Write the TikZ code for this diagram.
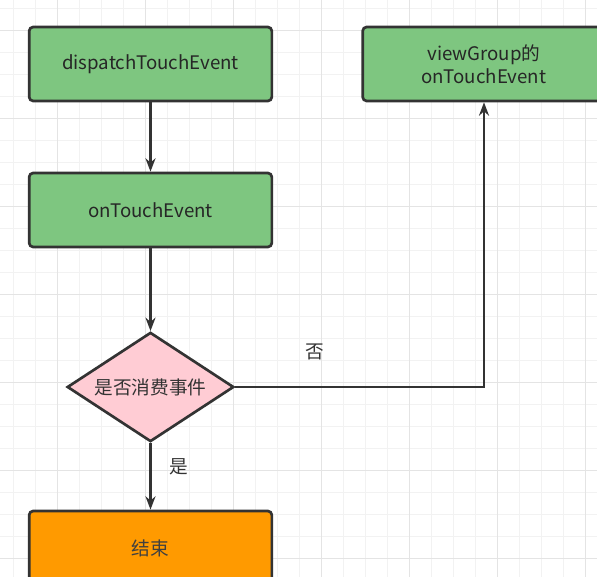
\documentclass[tikz,border=0pt]{standalone}
\usepackage{fontspec}
\setmainfont{Noto Sans CJK SC}
\usepackage{tikz}
\usetikzlibrary{shapes.geometric}
\usetikzlibrary{arrows.meta}
\definecolor{boxgreen}{HTML}{7EC680}
\definecolor{boxorange}{HTML}{FF9A00}
\definecolor{boxpink}{HTML}{FFCCD4}
\definecolor{edgegrey}{HTML}{333333}
\definecolor{gridminor}{HTML}{F2F2F2}
\definecolor{gridmajor}{HTML}{E4E4E4}
\tikzset{
	greenstyle/.style={rectangle,rounded corners=3pt,draw=edgegrey,line width=2pt,fill=boxgreen,minimum width=182pt,minimum height=55.5pt,text=black!85,align=center},
	orangestyle/.style={rectangle,rounded corners=3pt,draw=edgegrey,line width=2pt,fill=boxorange,minimum width=182pt,minimum height=55.5pt,text=black!75},
	decisionstyle/.style={diamond,aspect=1.5,draw=edgegrey,line width=2pt,fill=boxpink,minimum width=125pt,minimum height=82pt,inner sep=0pt,text=black!80},
	arrowstyle/.style={-{Stealth[length=10pt,width=7.5pt]},draw=edgegrey,line width=2pt},
	labelstyle/.style={text=black!80}
}

\begin{document}
\begin{tikzpicture}[x=0.75pt,y=-0.75pt]
	\fontsize{14}{17}\selectfont
	\useasboundingbox (0,0) rectangle (597,577);
	\fill[white] (0,0) rectangle (597,577);
	% grid
	\foreach \i in {0,...,26} {
		\draw[gridminor,line width=0.75pt] (13+22*\i,0) -- (13+22*\i,577);
		\draw[gridminor,line width=0.75pt] (0,9+22*\i) -- (597,9+22*\i);
	}
	\foreach \i in {0,...,6} {
		\draw[gridmajor,line width=0.75pt] (57+88*\i,0) -- (57+88*\i,577);
		\draw[gridmajor,line width=0.75pt] (0,31+88*\i) -- (597,31+88*\i);
	}
	\node[greenstyle] (dispatch) at (150.5,64) {dispatchTouchEvent};
	\node[greenstyle] (ontouch) at (150.5,210) {onTouchEvent};
	\node[decisionstyle] (consume) at (150.5,387) {是否消费事件};
	\node[orangestyle] (finish) at (150.5,548) {结束};
	\node[greenstyle] (group) at (484,64) {viewGroup的\\onTouchEvent};
	\draw[arrowstyle] (dispatch)--(ontouch);
	\draw[arrowstyle] (ontouch)--(consume);
	\draw[arrowstyle] (consume)--(finish) node[labelstyle,pos=0.35,xshift=21pt] {是};
	\draw[arrowstyle] (consume.east)-|(group.south) node[labelstyle,pos=0.16,yshift=26pt] {否};
\end{tikzpicture}
\end{document}
